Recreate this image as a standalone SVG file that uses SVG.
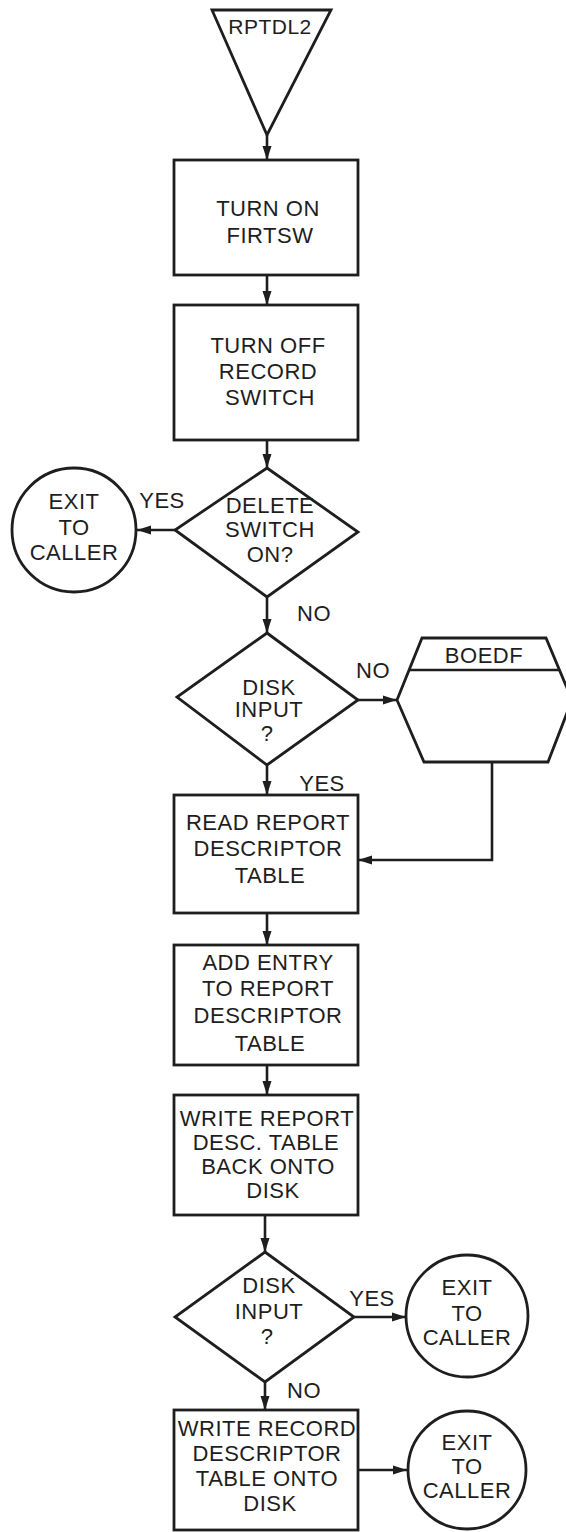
<svg xmlns="http://www.w3.org/2000/svg" width="566" height="1532" viewBox="0 0 566 1532">
<style>
.s{fill:#fff;stroke:#1e1e1e;stroke-width:2.8;stroke-linejoin:miter}
.t{font-family:"Liberation Sans",Arial,sans-serif;font-size:22px;fill:#1e1e1e;text-anchor:middle;letter-spacing:0.5px}
.c{fill:none;stroke:#1e1e1e;stroke-width:2.6}
</style>
<defs>
<marker id="a" markerUnits="userSpaceOnUse" markerWidth="16" markerHeight="12" refX="14" refY="6" orient="auto">
<path d="M0,1.5 L14,6 L0,10.5 Z" fill="#1e1e1e"/>
</marker>
</defs>
<g id="connectors">
<path class="c" d="M267,135 V160" marker-end="url(#a)"/>
<path class="c" d="M267,275 V305" marker-end="url(#a)"/>
<path class="c" d="M267,440 V468" marker-end="url(#a)"/>
<path class="c" d="M175,530 H137" marker-end="url(#a)"/>
<path class="c" d="M267,597 V633" marker-end="url(#a)"/>
<path class="c" d="M358,700 H397" marker-end="url(#a)"/>
<path class="c" d="M267,765 V795" marker-end="url(#a)"/>
<path class="c" d="M492,762 V860 H358" marker-end="url(#a)"/>
<path class="c" d="M267,913 V945" marker-end="url(#a)"/>
<path class="c" d="M267,1065 V1095" marker-end="url(#a)"/>
<path class="c" d="M265,1215 V1252" marker-end="url(#a)"/>
<path class="c" d="M354,1317 H406" marker-end="url(#a)"/>
<path class="c" d="M265,1382 V1410" marker-end="url(#a)"/>
<path class="c" d="M358,1470 H407" marker-end="url(#a)"/>
</g>
<g id="start">
<path class="s" d="M212,10 H331 L267,135 Z"/>
<text class="t" x="270" y="34" style="font-size:21px">RPTDL2</text>
</g>
<g id="box1">
<rect class="s" x="174" y="160" width="184" height="115"/>
<text class="t" x="268" y="216">TURN ON</text>
<text class="t" x="270" y="243">FIRTSW</text>
</g>
<g id="box2">
<rect class="s" x="174" y="305" width="184" height="135"/>
<text class="t" x="268" y="353">TURN OFF</text>
<text class="t" x="268" y="379">RECORD</text>
<text class="t" x="270" y="405">SWITCH</text>
</g>
<g id="dec1">
<path class="s" d="M267,468 L358,532 L267,597 L175,530 Z"/>
<text class="t" x="270" y="513">DELETE</text>
<text class="t" x="270" y="537">SWITCH</text>
<text class="t" x="270" y="562">ON?</text>
</g>
<g id="exit1">
<circle class="s" cx="74" cy="530" r="62"/>
<text class="t" x="74" y="509">EXIT</text>
<text class="t" x="74" y="535">TO</text>
<text class="t" x="74" y="560">CALLER</text>
</g>
<text class="t" x="162" y="508">YES</text>
<text class="t" x="314" y="621">NO</text>
<g id="dec2">
<path class="s" d="M267,633 L358,700 L267,765 L177,697 Z"/>
<text class="t" x="269" y="695">DISK</text>
<text class="t" x="269" y="717">INPUT</text>
<text class="t" x="267" y="741">?</text>
</g>
<text class="t" x="373" y="678">NO</text>
<g id="boedf">
<path class="s" d="M397,700 L422,638 H546 L572,700 L548,762 H424 Z"/>
<path class="c" d="M409,670 H560"/>
<text class="t" x="484" y="663">BOEDF</text>
</g>
<text class="t" x="322" y="791">YES</text>
<g id="box3">
<rect class="s" x="174" y="795" width="184" height="118"/>
<text class="t" x="268" y="830">READ REPORT</text>
<text class="t" x="268" y="856">DESCRIPTOR</text>
<text class="t" x="270" y="883">TABLE</text>
</g>
<g id="box4">
<rect class="s" x="174" y="945" width="184" height="120"/>
<text class="t" x="268" y="970">ADD ENTRY</text>
<text class="t" x="268" y="996">TO REPORT</text>
<text class="t" x="268" y="1023">DESCRIPTOR</text>
<text class="t" x="270" y="1051">TABLE</text>
</g>
<g id="box5">
<rect class="s" x="174" y="1095" width="184" height="120"/>
<text class="t" x="267" y="1126">WRITE REPORT</text>
<text class="t" x="266" y="1150">DESC. TABLE</text>
<text class="t" x="268" y="1174">BACK ONTO</text>
<text class="t" x="273" y="1198">DISK</text>
</g>
<g id="dec3">
<path class="s" d="M265,1252 L354,1317 L265,1382 L175,1317 Z"/>
<text class="t" x="269" y="1293">DISK</text>
<text class="t" x="269" y="1319">INPUT</text>
<text class="t" x="267" y="1344">?</text>
</g>
<text class="t" x="372" y="1306">YES</text>
<text class="t" x="304" y="1398">NO</text>
<g id="exit2">
<circle class="s" cx="467" cy="1316" r="61"/>
<text class="t" x="467" y="1295">EXIT</text>
<text class="t" x="467" y="1321">TO</text>
<text class="t" x="467" y="1345">CALLER</text>
</g>
<g id="box6">
<rect class="s" x="174" y="1410" width="184" height="120"/>
<text class="t" x="267" y="1436">WRITE RECORD</text>
<text class="t" x="267" y="1461">DESCRIPTOR</text>
<text class="t" x="267" y="1486">TABLE ONTO</text>
<text class="t" x="270" y="1511">DISK</text>
</g>
<g id="exit3">
<circle class="s" cx="467" cy="1470" r="59"/>
<text class="t" x="467" y="1450">EXIT</text>
<text class="t" x="467" y="1474">TO</text>
<text class="t" x="467" y="1498">CALLER</text>
</g>
</svg>
